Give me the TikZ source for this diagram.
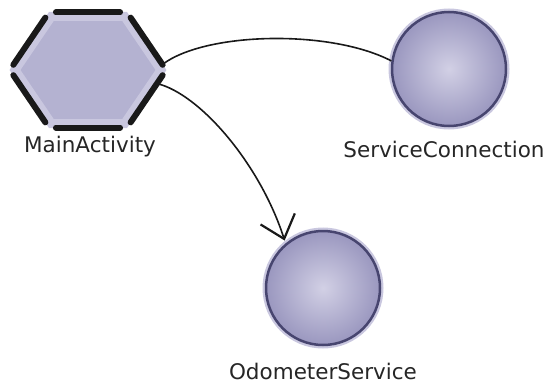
\documentclass[tikz,border=0pt]{standalone}
\usepackage{fontspec}
\setmainfont{DejaVu Sans}
\usetikzlibrary{shapes.geometric, arrows.meta, positioning, calc}

\definecolor{lavfill}{HTML}{B4B2D1}
\definecolor{lavhalo}{HTML}{C9C7DF}
\definecolor{lavlight}{HTML}{D2D0E5}
\definecolor{lavdark}{HTML}{9A97BF}
\definecolor{lavrim}{HTML}{47456F}

\begin{document}
\begin{tikzpicture}[
  x=1pt, y=1pt,
  hexbox/.style={regular polygon, regular polygon sides=6, minimum size=146pt,
                 inner sep=0pt, yscale=0.85, fill=lavfill, draw=lavhalo, line width=9pt},
  hexedge/.style={line width=6pt, line cap=round, black!90},
  ballbox/.style={circle, minimum size=114pt, inner sep=0pt,
                  inner color=lavlight, outer color=lavdark, draw=lavrim, line width=2.5pt,
                  preaction={draw=lavhalo, line width=7pt}},
  lbl/.style={font=\fontsize{21.5}{24}\selectfont, inner sep=0pt, anchor=base, text=black!85},
  link/.style={line width=1.6pt, black!90},
  arrow/.style={link, -{Straight Barb[length=21pt, width=36pt, line width=2.2pt]}}
]
\useasboundingbox (0,0) rectangle (545,384);

% activity and services
\node[hexbox] (main) at (88,314) {};
\foreach \i/\j in {1/2, 2/3, 3/4, 4/5, 5/6, 6/1}
  \draw[hexedge] ($(main.corner \i)!0.09!(main.corner \j)$) -- ($(main.corner \i)!0.91!(main.corner \j)$);
\node[ballbox] (conn) at (449,315) {};
\node[ballbox] (odo) at (323,96) {};

% labels
\node[lbl] (mainlbl) at (90,232) {MainActivity};
\node[lbl] (connlbl) at (444,227) {ServiceConnection};
\node[lbl] (odolbl) at (323,5) {OdometerService};

% links
\draw[link] (main.5) .. controls (205,352) and (330,355) .. (conn.172);
\draw[arrow, shorten >=3pt] (main.-13) .. controls (200,290) and (260,220) .. (odo.130);
\end{tikzpicture}
\end{document}
